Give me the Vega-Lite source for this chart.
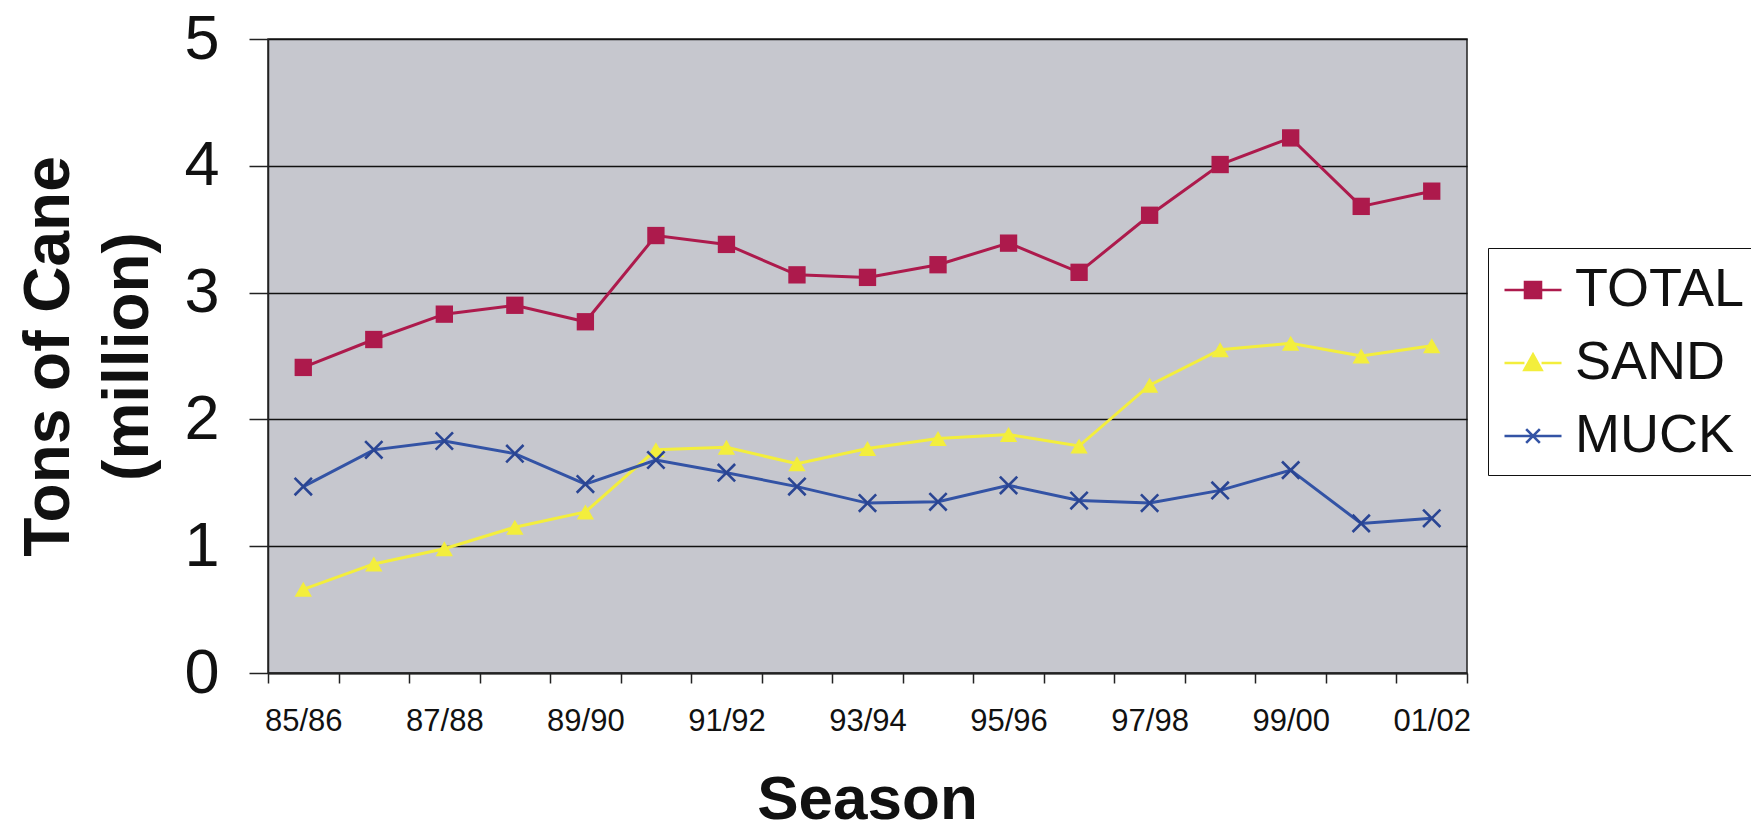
{
  "$schema": "https://vega.github.io/schema/vega-lite/v6.json",
  "autosize": {"type": "none"},
  "width": 1199,
  "height": 634,
  "padding": {"left": 268, "top": 39, "right": 284, "bottom": 157},
  "background": "white",
  "config": {
    "view": {"fill": "#c6c7ce", "stroke": "#222222", "strokeWidth": 1.5},
    "font": "Liberation Sans"
  },
  "data": {
    "values": [
      {"season": "85/86", "series": "TOTAL", "tons": 2.41},
      {"season": "86/87", "series": "TOTAL", "tons": 2.63},
      {"season": "87/88", "series": "TOTAL", "tons": 2.83},
      {"season": "88/89", "series": "TOTAL", "tons": 2.90},
      {"season": "89/90", "series": "TOTAL", "tons": 2.77},
      {"season": "90/91", "series": "TOTAL", "tons": 3.45},
      {"season": "91/92", "series": "TOTAL", "tons": 3.38},
      {"season": "92/93", "series": "TOTAL", "tons": 3.14},
      {"season": "93/94", "series": "TOTAL", "tons": 3.12},
      {"season": "94/95", "series": "TOTAL", "tons": 3.22},
      {"season": "95/96", "series": "TOTAL", "tons": 3.39},
      {"season": "96/97", "series": "TOTAL", "tons": 3.16},
      {"season": "97/98", "series": "TOTAL", "tons": 3.61},
      {"season": "98/99", "series": "TOTAL", "tons": 4.01},
      {"season": "99/00", "series": "TOTAL", "tons": 4.22},
      {"season": "00/01", "series": "TOTAL", "tons": 3.68},
      {"season": "01/02", "series": "TOTAL", "tons": 3.80},
      {"season": "85/86", "series": "SAND", "tons": 0.66},
      {"season": "86/87", "series": "SAND", "tons": 0.86},
      {"season": "87/88", "series": "SAND", "tons": 0.98},
      {"season": "88/89", "series": "SAND", "tons": 1.15},
      {"season": "89/90", "series": "SAND", "tons": 1.27},
      {"season": "90/91", "series": "SAND", "tons": 1.76},
      {"season": "91/92", "series": "SAND", "tons": 1.78},
      {"season": "92/93", "series": "SAND", "tons": 1.65},
      {"season": "93/94", "series": "SAND", "tons": 1.77},
      {"season": "94/95", "series": "SAND", "tons": 1.85},
      {"season": "95/96", "series": "SAND", "tons": 1.88},
      {"season": "96/97", "series": "SAND", "tons": 1.79},
      {"season": "97/98", "series": "SAND", "tons": 2.27},
      {"season": "98/99", "series": "SAND", "tons": 2.55},
      {"season": "99/00", "series": "SAND", "tons": 2.60},
      {"season": "00/01", "series": "SAND", "tons": 2.50},
      {"season": "01/02", "series": "SAND", "tons": 2.58},
      {"season": "85/86", "series": "MUCK", "tons": 1.47},
      {"season": "86/87", "series": "MUCK", "tons": 1.76},
      {"season": "87/88", "series": "MUCK", "tons": 1.83},
      {"season": "88/89", "series": "MUCK", "tons": 1.73},
      {"season": "89/90", "series": "MUCK", "tons": 1.49},
      {"season": "90/91", "series": "MUCK", "tons": 1.68},
      {"season": "91/92", "series": "MUCK", "tons": 1.58},
      {"season": "92/93", "series": "MUCK", "tons": 1.47},
      {"season": "93/94", "series": "MUCK", "tons": 1.34},
      {"season": "94/95", "series": "MUCK", "tons": 1.35},
      {"season": "95/96", "series": "MUCK", "tons": 1.48},
      {"season": "96/97", "series": "MUCK", "tons": 1.36},
      {"season": "97/98", "series": "MUCK", "tons": 1.34},
      {"season": "98/99", "series": "MUCK", "tons": 1.44},
      {"season": "99/00", "series": "MUCK", "tons": 1.60},
      {"season": "00/01", "series": "MUCK", "tons": 1.18},
      {"season": "01/02", "series": "MUCK", "tons": 1.22}
    ]
  },
  "encoding": {
    "x": {
      "field": "season",
      "type": "nominal",
      "sort": null,
      "scale": {"type": "band", "paddingInner": 0, "paddingOuter": 0},
      "axis": {
        "title": "Season",
        "titleFont": "Liberation Sans",
        "titleFontSize": 62,
        "titleFontWeight": "bold",
        "titleColor": "#111111",
        "titleX": 599,
        "titleY": 145,
        "titleAlign": "center",
        "titleBaseline": "alphabetic",
        "labelAngle": 0,
        "labelFont": "Liberation Sans",
        "labelFontSize": 31,
        "labelColor": "#111111",
        "labelPadding": 23,
        "labelBaseline": "top",
        "labelExpr": "toNumber(substring(datum.value, 0, 2)) % 2 == 1 ? datum.value : ''",
        "tickBand": "extent",
        "tickSize": 10,
        "tickColor": "#222222",
        "tickWidth": 1.5,
        "domainColor": "#222222",
        "domainWidth": 2,
        "grid": false
      }
    },
    "y": {
      "field": "tons",
      "type": "quantitative",
      "scale": {"domain": [0, 5], "nice": false},
      "axis": {
        "title": ["Tons of Cane", "(million)"],
        "titleFont": "Liberation Sans",
        "titleFontSize": 64,
        "titleFontWeight": "bold",
        "titleColor": "#111111",
        "titleAngle": -90,
        "titleX": -200,
        "titleY": 317,
        "titleAlign": "center",
        "titleBaseline": "alphabetic",
        "titleLineHeight": 79,
        "values": [0, 1, 2, 3, 4, 5],
        "labelFont": "Liberation Sans",
        "labelFontSize": 63,
        "labelColor": "#111111",
        "labelPadding": 30,
        "tickSize": 19,
        "tickColor": "#222222",
        "tickWidth": 1.5,
        "domainColor": "#222222",
        "domainWidth": 1.5,
        "grid": true,
        "gridColor": "#111111",
        "gridWidth": 1.5,
        "gridOpacity": 1
      }
    }
  },
  "layer": [
    {
      "mark": {"type": "line", "strokeWidth": 3},
      "encoding": {
        "color": {
          "field": "series",
          "type": "nominal",
          "scale": {"domain": ["TOTAL", "SAND", "MUCK"], "range": ["#ad1a4c", "#f3ee3c", "#3353a5"]},
          "legend": {
            "title": null,
            "orient": "none",
            "legendX": 1220,
            "legendY": 209,
            "direction": "vertical",
            "fillColor": "white",
            "strokeColor": "#111111",
            "padding": 12,
            "symbolSize": 3249,
            "symbolStrokeWidth": 2.6,
            "symbolOffset": 3,
            "labelFont": "Liberation Sans",
            "labelFontSize": 54,
            "labelColor": "#111111",
            "labelOffset": 12,
            "rowPadding": 16,
            "labelLimit": 400,
            "encode": {
              "symbols": {
                "update": {
                  "shape": {"signal": "datum.value == 'TOTAL' ? 'M-1,0H-0.28M0.28,0H1M-0.28,-0.28H0.28V0.28H-0.28Z' : datum.value == 'SAND' ? 'M-1,0H-0.3M0.3,0H1M0,-0.3L0.3,0.24H-0.3Z' : 'M-1,0H1M-0.24,-0.24L0.24,0.24M-0.24,0.24L0.24,-0.24'"},
                  "fill": {"signal": "datum.value == 'TOTAL' ? '#ad1a4c' : datum.value == 'SAND' ? '#f3ee3c' : 'transparent'"},
                  "stroke": {"signal": "datum.value == 'TOTAL' ? '#ad1a4c' : datum.value == 'SAND' ? '#f3ee3c' : '#3353a5'"},
                  "opacity": {"value": 1},
                  "strokeWidth": {"value": 2.6}
                }
              }
            }
          }
        }
      }
    },
    {
      "transform": [{"filter": "datum.series == 'TOTAL'"}],
      "mark": {"type": "point", "shape": "square", "filled": true, "size": 300, "color": "#ad1a4c", "opacity": 1}
    },
    {
      "transform": [{"filter": "datum.series == 'SAND'"}],
      "mark": {"type": "point", "shape": "triangle-up", "filled": true, "size": 300, "color": "#f3ee3c", "opacity": 1}
    },
    {
      "transform": [{"filter": "datum.series == 'MUCK'"}],
      "mark": {"type": "point", "shape": "M-1,-1L1,1M-1,1L1,-1", "filled": false, "size": 300, "color": "#2a4593", "strokeWidth": 2.6, "opacity": 1}
    }
  ]
}
